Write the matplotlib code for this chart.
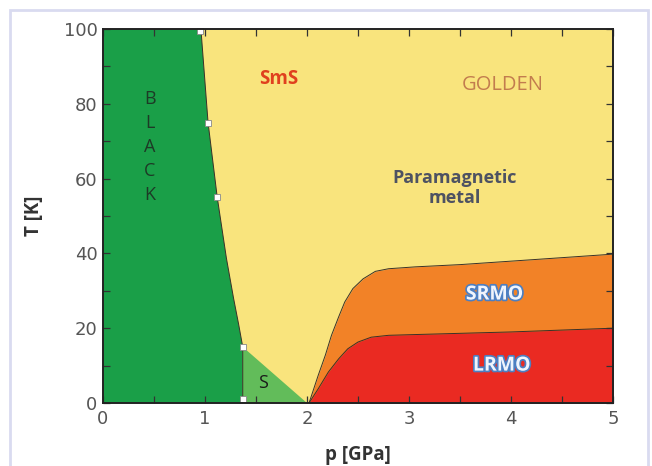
import matplotlib
matplotlib.use("Agg")
import matplotlib.pyplot as plt
import matplotlib.patheffects as pe
from matplotlib.patches import Rectangle
import numpy as np

plt.rcParams['font.family'] = ['Open Sans', 'DejaVu Sans']

# Phase boundaries
black_p = [0.96, 1.03, 1.12, 1.21, 1.28, 1.33, 1.37]
black_T = [100, 75, 55, 38.7, 28, 21, 15]
points_p = [0.95, 1.03, 1.12, 1.37, 1.37]
points_T = [99.5, 75, 55, 15, 1]
s_p = [1.37, 2.0, 1.37]
s_T = [15, 0, 0]
srmo_p = [2.02, 2.11, 2.18, 2.24, 2.31, 2.37, 2.45, 2.55, 2.67, 2.80, 3.06, 3.5, 4.2, 5.0]
srmo_T = [0, 7.4, 12.8, 18.1, 23.0, 27.0, 30.6, 33.2, 35.2, 35.9, 36.4, 37.0, 38.3, 39.8]
lrmo_p = [2.02, 2.11, 2.21, 2.31, 2.40, 2.50, 2.63, 2.80, 3.06, 4.0, 5.0]
lrmo_T = [0, 3.8, 8.3, 11.8, 14.5, 16.3, 17.6, 18.1, 18.3, 19.0, 20.0]

x_ticks = [0, 1, 2, 3, 4, 5]
y_ticks = [0, 20, 40, 60, 80, 100]

c_gold = '#f9e47d'
c_black = '#1a9f48'
c_s = '#62bc5a'
c_orange = '#f28227'
c_red = '#ea2a22'

fig = plt.figure(figsize=(6.52, 4.66), dpi=100)
fig.patches.append(Rectangle((10/652, -0.02), 638/652, (466-10)/466 + 0.02,
                             transform=fig.transFigure, fill=False,
                             edgecolor='#d9dbf0', linewidth=2.0))
ax = fig.add_axes([103/652, 63/466, 510/652, 374/466])
ax.set_facecolor(c_gold)

# BLACK region
bx = [0, 0] + black_p + [black_p[-1]]
by = [0, 100] + black_T + [0]
ax.fill(bx, by, color=c_black, lw=0, zorder=1)
# S region
ax.fill(s_p, s_T, color=c_s, lw=0, zorder=1)
# SRMO / LRMO
ax.fill_between(srmo_p, 0, srmo_T, color=c_orange, lw=0, zorder=1)
ax.fill_between(lrmo_p, 0, lrmo_T, color=c_red, lw=0, zorder=1)

lc = '#3a3028'
ax.plot(black_p + [black_p[-1]], black_T + [0], color=lc, lw=0.7, zorder=2,
        solid_joinstyle='round')
ax.plot(srmo_p, srmo_T, color=lc, lw=0.7, zorder=2, solid_joinstyle='round')
ax.plot(lrmo_p, lrmo_T, color=lc, lw=0.7, zorder=2, solid_joinstyle='round')
ax.plot(points_p, points_T, ls='none', marker='s', ms=5, mfc='white',
        mec='#888888', mew=0.6, zorder=3, clip_on=False)

ax.set_xlim(0, 5)
ax.set_ylim(0, 100)
ax.set_xticks(x_ticks)
ax.set_yticks(y_ticks)
ax.set_xticks(np.arange(0, 5.01, 0.5), minor=True)
ax.set_yticks(np.arange(0, 100.1, 10), minor=True)
ax.tick_params(which='both', direction='in', top=True, right=True,
               length=5, width=0.9, colors='#333333', labelcolor='#555555',
               labelsize=13)
for lab in ax.get_xticklabels() + ax.get_yticklabels():
    lab.set_family(['DejaVu Sans'])
ax.tick_params(axis='x', pad=5)
ax.tick_params(axis='y', pad=4)
for s in ax.spines.values():
    s.set_linewidth(1.4)
    s.set_color('#222222')
    s.set_zorder(5)

ax.set_xlabel('p [GPa]', fontsize=13.5, fontweight='bold', color='#333333', labelpad=12)
ax.set_ylabel('T [K]', fontsize=13.5, fontweight='bold', color='#333333', labelpad=14)

ax.text(0.46, 68.5, 'B\nL\nA\nC\nK', ha='center', va='center', fontsize=13,
        color='#1d3a26', linespacing=1.42, zorder=4)
ax.text(1.72, 86.5, 'SmS', ha='center', va='center', fontsize=13.5,
        color='#e0401e', fontweight='bold', zorder=4)
ax.text(3.92, 85, 'GOLDEN', ha='center', va='center', fontsize=14.5,
        color='#c27c4e', fontweight='medium', zorder=4)
ax.text(3.45, 57.5, 'Paramagnetic\nmetal', ha='center', va='center', fontsize=13,
        color='#4e5262', fontweight='bold', linespacing=1.15, zorder=4)
ax.text(1.57, 5.3, 'S', ha='center', va='center', fontsize=13,
        color='#1a1a1a', zorder=4)
for label, px, py in [('SRMO', 3.84, 29), ('LRMO', 3.91, 10)]:
    t = ax.text(px, py, label, ha='center', va='center', fontsize=14,
                color='#f0f4fc', fontweight='bold', zorder=4)
    t.set_path_effects([pe.Stroke(linewidth=2.5, foreground='#4d7fc2'), pe.Normal()])

fig.savefig('out.png', dpi=100)
